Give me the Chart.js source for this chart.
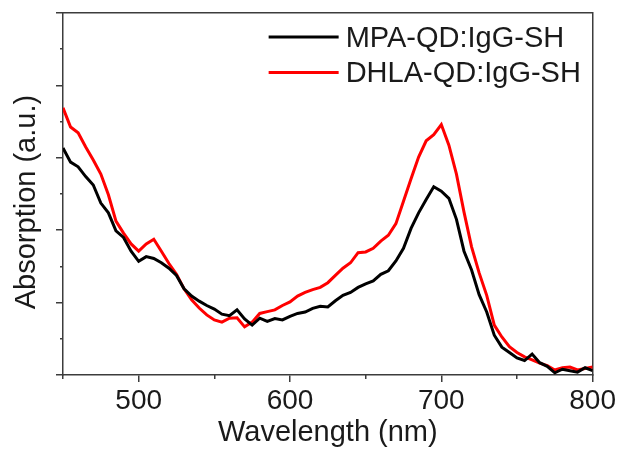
<!DOCTYPE html>
<html>
<head>
<meta charset="utf-8">
<script src="https://cdn.jsdelivr.net/npm/chart.js@4.4.1/dist/chart.umd.min.js"></script>
<style>
  html, body { margin: 0; padding: 0; background: #fff; }
  #wrap { width: 618px; height: 451px; }
</style>
</head>
<body>
<div id="wrap"><canvas id="chart"></canvas></div>
<script>
// wavelength axis (nm) and the two absorption traces (a.u.)
var wavelengths = [450, 455, 460, 465, 470, 475, 480, 485, 490, 495,
                   500, 505, 510, 515, 520, 525, 530, 535, 540, 545,
                   550, 555, 560, 565, 570, 575, 580, 585, 590, 595,
                   600, 605, 610, 615, 620, 625, 630, 635, 640, 645,
                   650, 655, 660, 665, 670, 675, 680, 685, 690, 695,
                   700, 705, 710, 715, 720, 725, 730, 735, 740, 745,
                   750, 755, 760, 765, 770, 775, 780, 785, 790, 795, 800];
var mpaValues = [6.27, 5.88, 5.75, 5.48, 5.25, 4.75, 4.48, 3.98, 3.80, 3.42,
                 3.14, 3.27, 3.22, 3.10, 2.95, 2.75, 2.38, 2.18, 2.04, 1.92,
                 1.82, 1.68, 1.64, 1.80, 1.55, 1.38, 1.57, 1.48, 1.56, 1.52,
                 1.62, 1.70, 1.74, 1.84, 1.90, 1.88, 2.05, 2.20, 2.28, 2.42,
                 2.52, 2.60, 2.78, 2.88, 3.15, 3.50, 4.05, 4.48, 4.85, 5.20,
                 5.08, 4.88, 4.30, 3.42, 2.90, 2.22, 1.74, 1.10, 0.77, 0.62,
                 0.47, 0.40, 0.58, 0.34, 0.24, 0.06, 0.16, 0.12, 0.08, 0.20, 0.12];
var dhlaValues = [7.38, 6.85, 6.69, 6.30, 5.94, 5.55, 4.98, 4.25, 3.92, 3.62,
                  3.42, 3.62, 3.75, 3.42, 3.08, 2.78, 2.38, 2.08, 1.85, 1.66,
                  1.52, 1.46, 1.57, 1.58, 1.33, 1.46, 1.70, 1.75, 1.80, 1.92,
                  2.02, 2.18, 2.28, 2.36, 2.42, 2.55, 2.75, 2.95, 3.10, 3.38,
                  3.40, 3.50, 3.70, 3.86, 4.18, 4.80, 5.42, 6.02, 6.47, 6.64,
                  6.92, 6.35, 5.55, 4.50, 3.54, 2.82, 2.20, 1.38, 1.05, 0.78,
                  0.62, 0.50, 0.42, 0.33, 0.26, 0.14, 0.20, 0.22, 0.14, 0.18, 0.22];

var seriesLabels = ['MPA-QD:IgG-SH', 'DHLA-QD:IgG-SH'];
var seriesColors = ['#000000', '#ff0000'];

var xMajorTicks = [500, 600, 700, 800];
var xMinorTicks = [450, 550, 650, 750];
var yMajorTicks = [0, 2, 4, 6, 8, 10];
var yMinorTicks = [1, 3, 5, 7, 9];

var FONT = "'Liberation Sans', Arial, sans-serif";
var AXIS = '#3c3c3c';
var TEXT = '#1a1a1a';

function points(values) {
    return wavelengths.map(function (w, i) { return {x: w, y: values[i]}; });
}

function fixedTicks(list) {
    return function (scale) {
        scale.ticks = list.map(function (v) { return {value: v}; });
    };
}

// legend drawn inside the plot, top right, like the original
var insideLegend = {
    id: 'insideLegend',
    afterDatasetsDraw: function (chart) {
        var ctx = chart.ctx;
        var area = chart.chartArea;
        ctx.save();
        ctx.font = '29px ' + FONT;
        ctx.textBaseline = 'alphabetic';
        chart.data.datasets.forEach(function (ds, i) {
            var y = area.top + 24 + i * 35.5;
            ctx.strokeStyle = ds.borderColor;
            ctx.lineWidth = 3;
            ctx.beginPath();
            ctx.moveTo(area.right - 324, y);
            ctx.lineTo(area.right - 254, y);
            ctx.stroke();
            ctx.fillStyle = TEXT;
            ctx.fillText(ds.label, area.right - 247, y + 9.5);
        });
        ctx.restore();
    }
};

// a tick-only axis (no labels) that takes no room in the layout
function tickAxis(position, min, max, ticks, length, weight) {
    var horizontal = position === 'top' || position === 'bottom';
    return {
        type: 'linear', position: position, min: min, max: max, weight: weight,
        afterBuildTicks: fixedTicks(ticks),
        afterFit: function (s) { if (horizontal) { s.height = 0; } else { s.width = 0; } },
        grid: { drawOnChartArea: false, drawTicks: length > 0, tickLength: length, color: AXIS, lineWidth: 1.5 },
        border: { display: false },
        ticks: { display: false }
    };
}

function frameAxis(position, min, max) {
    var horizontal = position === 'top' || position === 'bottom';
    return {
        type: 'linear', position: position, min: min, max: max,
        afterFit: function (s) { if (horizontal) { s.height = 0; } else { s.width = 0; } },
        grid: { display: false, drawTicks: false },
        border: { color: AXIS, width: 1.5 },
        ticks: { display: false }
    };
}

var ctx = document.getElementById('chart').getContext('2d');
new Chart(ctx, {
    type: 'line',
    data: {
        datasets: [{
            label: seriesLabels[0],
            data: points(mpaValues),
            borderColor: seriesColors[0],
            borderWidth: 3,
            pointRadius: 0,
            tension: 0
        }, {
            label: seriesLabels[1],
            data: points(dhlaValues),
            borderColor: seriesColors[1],
            borderWidth: 3,
            pointRadius: 0,
            tension: 0
        }]
    },
    options: {
        responsive: true,
        maintainAspectRatio: false,
        animation: false,
        devicePixelRatio: 1,
        layout: { padding: { top: 13, right: 25, left: 0, bottom: 0 } },
        plugins: { legend: { display: false }, tooltip: { enabled: false } },
        scales: {
            x: {
                type: 'linear', position: 'bottom', min: 450, max: 800, weight: 1,
                afterBuildTicks: fixedTicks(xMajorTicks),
                afterFit: function (s) { s.height = 76; },
                grid: { drawOnChartArea: false, tickLength: 7, color: AXIS, lineWidth: 1.5 },
                border: { color: AXIS, width: 1.5 },
                ticks: { padding: 2, color: TEXT, font: { family: FONT, size: 28 }, maxRotation: 0, autoSkip: false },
                title: { display: true, text: 'Wavelength (nm)', color: TEXT,
                         font: { family: FONT, size: 29 }, padding: { top: 0, bottom: 1 } }
            },
            xMinor: tickAxis('bottom', 450, 800, xMinorTicks, 4, 0),
            xTop: frameAxis('top', 450, 800),
            y: {
                type: 'linear', position: 'left', min: 0, max: 10, weight: 1,
                afterBuildTicks: fixedTicks(yMajorTicks),
                afterFit: function (s) { s.width = 63; },
                grid: { drawOnChartArea: false, tickLength: 7, color: AXIS, lineWidth: 1.5 },
                border: { color: AXIS, width: 1.5 },
                ticks: { display: false },
                title: { display: true, text: 'Absorption (a.u.)  ', color: TEXT,
                         font: { family: FONT, size: 29 }, padding: { top: 10, bottom: 0 } }
            },
            yMinor: tickAxis('left', 0, 10, yMinorTicks, 3, 0),
            yRight: frameAxis('right', 0, 10)
        }
    },
    plugins: [insideLegend]
});
</script>
</body>
</html>
